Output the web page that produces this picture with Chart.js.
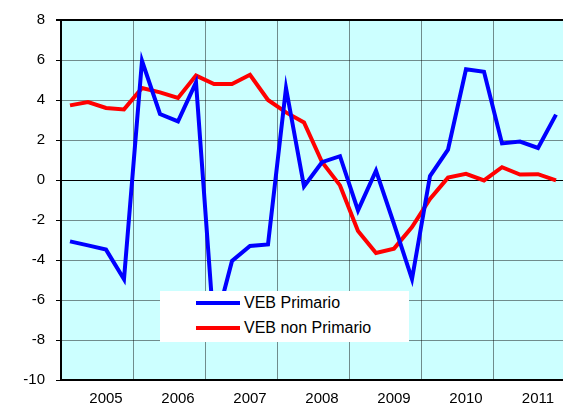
<!DOCTYPE html>
<html>
<head>
<meta charset="utf-8">
<script src="https://cdn.jsdelivr.net/npm/chart.js@4.4.1/dist/chart.umd.min.js"></script>
<style>
  html, body { margin: 0; padding: 0; background: #fff; overflow: hidden; }
  #wrap { position: relative; width: 570px; height: 405px; }
  #legend {
    position: absolute; left: 160px; top: 291px; width: 249px; height: 51px;
    background: #fff; font: 16px "Liberation Sans", Arial, sans-serif; color: #000;
  }
  #legend .item { position: absolute; left: 36px; height: 20px; line-height: 20px; white-space: nowrap; }
  #legend .swatch { display: inline-block; width: 44px; height: 4px; vertical-align: middle; margin-right: 4px; position: relative; top: -1px; }
</style>
</head>
<body>
<div id="wrap">
  <canvas id="chart"></canvas>
  <div id="legend"></div>
</div>
<script>
const years = ["2005", "2006", "2007", "2008", "2009", "2010", "2011"];
const quarters = ["T1", "T2", "T3", "T4"];

const vebPrimario = [
  -3.07, -3.27, -3.48, -4.96,
   5.96,  3.30,  2.93,  4.88,
  -7.50, -4.05, -3.30, -3.22,
   4.60, -0.32,  0.89,  1.19,
  -1.52,  0.47, -2.20, -4.95,
   0.20,  1.52,  5.54,  5.41,
   1.83,  1.92,  1.60,  3.27
];

const vebNonPrimario = [
   3.73,  3.90,  3.60,  3.53,
   4.60,  4.38,  4.10,  5.22,
   4.80,  4.80,  5.26,  4.00,
   3.38,  2.88,  0.90, -0.27,
  -2.55, -3.65, -3.43, -2.35,
  -0.95,  0.12,  0.31, -0.02,
   0.64,  0.27,  0.29, -0.02
];

const yTicks = [-10, -8, -6, -4, -2, 0, 2, 4, 6, 8];

// etichette trimestrali costruite dagli anni
const labels = [];
years.forEach(y => quarters.forEach(q => labels.push(q + " " + y)));

const gridGray = "rgba(0,0,0,0.45)";

const plotBg = {
  id: "plotBg",
  beforeDraw(chart) {
    const { ctx, chartArea: a } = chart;
    ctx.save();
    ctx.fillStyle = "#ccffff";
    ctx.fillRect(a.left, a.top, a.right - a.left, a.bottom - a.top);
    ctx.restore();
  }
};

const chart = new Chart(document.getElementById("chart"), {
  type: "line",
  data: {
    labels,
    datasets: [
      { label: "VEB Primario", data: vebPrimario, borderColor: "#0000ff" },
      { label: "VEB non Primario", data: vebNonPrimario, borderColor: "#ff0000" }
    ]
  },
  options: {
    responsive: true,
    maintainAspectRatio: false,
    animation: false,
    layout: { padding: { left: 0, right: 5, top: 19, bottom: 0 } },
    elements: {
      line: { borderWidth: 4, tension: 0, borderJoinStyle: "miter", borderCapStyle: "butt" },
      point: { radius: 0, hoverRadius: 0 }
    },
    plugins: {
      legend: { display: false },
      tooltip: { enabled: false }
    },
    scales: {
      x: {
        type: "category",
        offset: true,
        afterFit(scale) { scale.height = 25; },
        border: { color: "#000", width: 2 },
        grid: {
          offset: true,
          drawTicks: false,
          lineWidth: 1,
          color: ctx => (ctx.index % 4 === 0 ? gridGray : "rgba(0,0,0,0)")
        },
        ticks: {
          autoSkip: false,
          maxRotation: 0,
          padding: 10,
          color: "#000",
          font: { family: "'Liberation Sans', Arial, sans-serif", size: 15 },
          callback: (v, i) => (i % 4 === 2 ? years[Math.floor(i / 4)] : "")
        }
      },
      y: {
        min: yTicks[0],
        max: yTicks[yTicks.length - 1],
        afterFit(scale) { scale.width = 61; },
        afterBuildTicks(scale) { scale.ticks = yTicks.map(v => ({ value: v })); },
        border: { color: "#000", width: 2 },
        grid: {
          tickLength: 5,
          tickColor: "#000",
          color: ctx => (ctx.tick && (ctx.tick.value === 0 || ctx.tick.value === 8) ? "#000" : gridGray),
          lineWidth: ctx => (ctx.tick && ctx.tick.value === 8 ? 2 : 1)
        },
        ticks: {
          padding: 11,
          color: "#000",
          font: { family: "'Liberation Sans', Arial, sans-serif", size: 15 }
        }
      }
    }
  },
  plugins: [plotBg]
});

// legenda sopra le linee, come nel grafico originale
const legendEl = document.getElementById("legend");
legendEl.innerHTML = chart.data.datasets.map((ds, i) => `
  <div class="item" style="top:${2 + i * 25}px">
    <span class="swatch" style="background:${ds.borderColor}"></span>${ds.label}
  </div>
`).join("");
</script>
</body>
</html>
